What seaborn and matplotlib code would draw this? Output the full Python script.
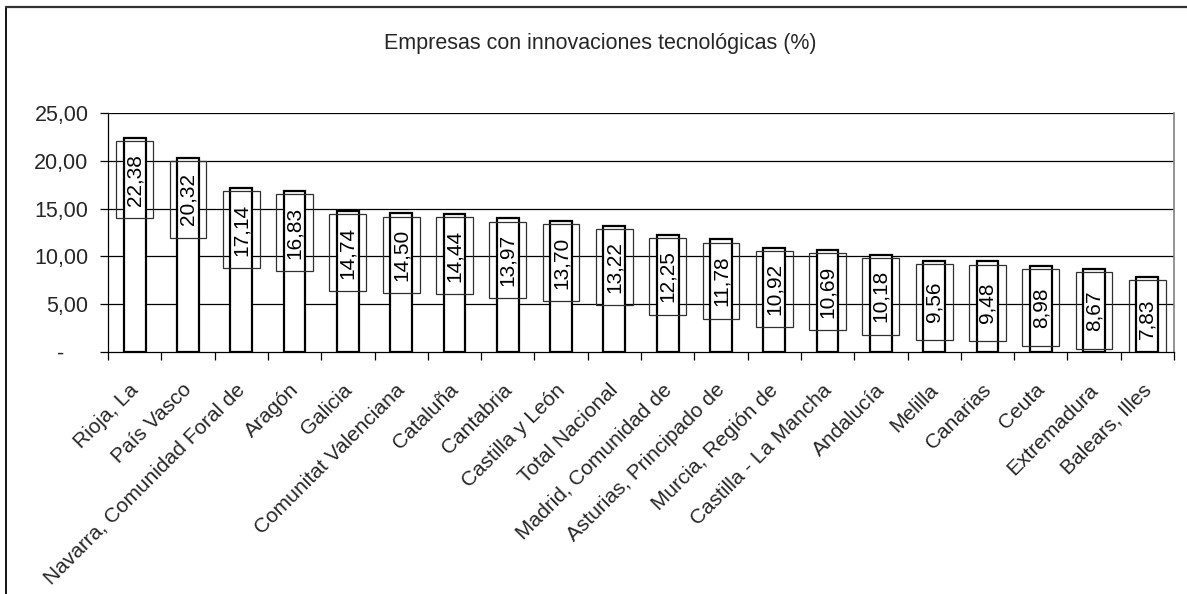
import matplotlib
matplotlib.use("Agg")
import matplotlib.pyplot as plt
import matplotlib.transforms as mtransforms
from matplotlib.patches import Rectangle
from matplotlib.lines import Line2D
import seaborn as sns
import pandas as pd
import numpy as np

regions = ["Rioja, La", "País Vasco", "Navarra, Comunidad Foral de", "Aragón", "Galicia",
           "Comunitat Valenciana", "Cataluña", "Cantabria", "Castilla y León", "Total Nacional",
           "Madrid, Comunidad de", "Asturias, Principado de", "Murcia, Región de",
           "Castilla - La Mancha", "Andalucía", "Melilla", "Canarias", "Ceuta",
           "Extremadura", "Balears, Illes"]
values = [22.38, 20.32, 17.14, 16.83, 14.74, 14.50, 14.44, 13.97, 13.70, 13.22,
          12.25, 11.78, 10.92, 10.69, 10.18, 9.56, 9.48, 8.98, 8.67, 7.83]
title = "Empresas con innovaciones tecnológicas (%)"
yticks = [0, 5, 10, 15, 20, 25]

sns.set_theme(style="white")
plt.rcParams['font.family'] = ['Liberation Sans', 'DejaVu Sans']

df = pd.DataFrame({"region": regions, "value": values})

fig = plt.figure(figsize=(11.87, 5.94), dpi=100)
ax = fig.add_axes([108/1187, 1-352/594, (1174-108)/1187, (352-113)/594])

sns.barplot(data=df, x="region", y="value", ax=ax, color="white",
            edgecolor="black", linewidth=1.6, width=0.41, saturation=1)

ax.set_xlim(-0.5, len(regions)-0.5)
ax.set_ylim(0, 25)
ax.set_xlabel("")
ax.set_ylabel("")

# gridlines
for yv in yticks[1:]:
    ax.axhline(yv, color="black", lw=0.9, zorder=0.5)

# value labels with boxes
box_w = 0.69
box_h = 8.0
for i, v in enumerate(values):
    cy = v - 4.35
    ax.add_patch(Rectangle((i - box_w/2, cy - box_h/2), box_w, box_h, fill=False,
                           edgecolor="#303030", lw=0.9, zorder=3))
    ax.text(i, cy, f"{v:.2f}".replace(".", ","), rotation=90, ha="center", va="center",
            fontsize=15, color="black", zorder=4)

# y ticks
ax.set_yticks(yticks)
ax.set_yticklabels(["-    "] + [f"{t:.2f}".replace(".", ",") for t in yticks[1:]], fontsize=15.5)
ax.tick_params(axis="y", which="major", direction="out", length=6, width=0.9, color="black",
               left=True, pad=8)

# x ticks: labels at centers, marks at boundaries
ax.set_xticks(range(len(regions)))
ax.set_xticklabels(regions, rotation=45, ha="right", va="center", rotation_mode="anchor",
                   fontsize=15)
ax.tick_params(axis="x", which="major", length=0, pad=0)
offset = mtransforms.ScaledTranslation(1/100, -35/100, fig.dpi_scale_trans)
for lbl in ax.get_xticklabels():
    lbl.set_transform(lbl.get_transform() + offset)
ax.set_xticks(np.arange(-0.5, len(regions), 1.0), minor=True)
ax.tick_params(axis="x", which="minor", direction="out", length=6, width=0.9,
               color="black", bottom=True)

for s in ["left", "bottom"]:
    ax.spines[s].set_visible(True)
    ax.spines[s].set_color("black")
    ax.spines[s].set_linewidth(0.9)
ax.spines["right"].set_color("#808080")
ax.spines["right"].set_linewidth(1.2)
ax.spines["top"].set_visible(False)

fig.text(600/1187, 1-43/594, title, ha="center", va="center", fontsize=15.5)

# figure border (top and left)
fig.add_artist(Line2D([6/1187, 6/1187], [0, 1-7/594], transform=fig.transFigure,
                      color="black", lw=1.3))
fig.add_artist(Line2D([6/1187, 1], [1-7/594, 1-7/594], transform=fig.transFigure,
                      color="#333333", lw=1.6))

fig.savefig("out.png", dpi=100, facecolor="white")
